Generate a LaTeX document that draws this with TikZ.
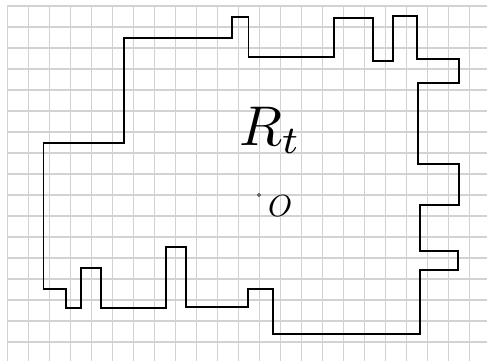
\documentclass[tikz,border=0pt]{standalone}
\usepackage{amsmath}
\usepackage{graphicx}
\usetikzlibrary{positioning}

\begin{document}
\begin{tikzpicture}[
    x=1pt, y=-1pt,
    gridline/.style={draw=gray!35, line width=1.1pt},
    boundary/.style={draw=black, line width=1.7pt, line join=miter},
    lbl/.style={inner sep=0pt, outer sep=0pt, anchor=base west}
]
\useasboundingbox (0,0) rectangle (487,361);

% Background grid
\foreach \i in {0,...,22}
    \draw[gridline] (7.3+21*\i,6) -- (7.3+21*\i,361);
\foreach \j in {0,...,16}
    \draw[gridline] (7.3,6+21*\j) -- (487,6+21*\j);

% Region boundary
\draw[boundary] (43.5,143.3) -- (124.3,143.3) -- (124.3,37.7) -- (231.7,37.7)
    -- (231.7,16.7) -- (248.5,16.7) -- (248.5,57.3) -- (333.7,57.3)
    -- (333.7,18.3) -- (373,18.3) -- (373,61.3) -- (392.7,61.3)
    -- (392.7,16) -- (417,16) -- (417,59) -- (458.7,59)
    -- (458.7,82.7) -- (418,82.7) -- (418,164) -- (458.7,164)
    -- (458.7,205) -- (419.7,205) -- (419.7,250.7) -- (458,250.7)
    -- (458,270) -- (419.7,270) -- (419.7,334.3) -- (272.7,334.3)
    -- (272.7,289.3) -- (248,289.3) -- (248,307) -- (185.7,307)
    -- (185.7,246.7) -- (165.7,246.7) -- (165.7,308.3) -- (101.3,308.3)
    -- (101.3,267.7) -- (81,267.7) -- (81,307.7) -- (66,307.7)
    -- (66,289.3) -- (43.5,289.3) -- cycle;

% Labels
\node[lbl] (region) at (239,145) {\scalebox{5.6}{$R_t$}};
\coordinate (origin) at (259,195);
\draw[line width=0.6pt] (origin) circle (1.5pt);
\node[lbl] (olabel) at (268,216) {\scalebox{3.05}{$O$}};

\end{tikzpicture}
\end{document}
